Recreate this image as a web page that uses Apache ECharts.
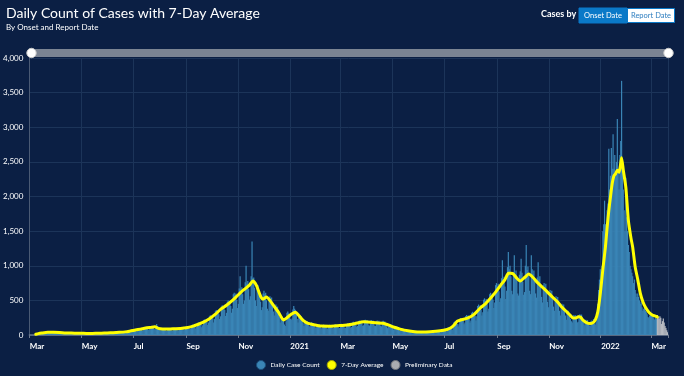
<!DOCTYPE html>
<html lang="en">
<head>
    <meta charset="UTF-8">
    <title>Daily Count of Cases with 7-Day Average</title>
    <script src="https://cdn.jsdelivr.net/npm/echarts@6/dist/echarts.min.js"></script>
</head>
<body style="margin:0;background:#0b1f44">
<div id="main" style="width:684px;height:376px"></div>
<script>
    // one entry per day, starting 2020-03-01 (a Sunday), one week per row
    const dailyCases = [
        0,0,0,0,0,1,2,
        5,12,18,22,25,20,15,
        22,35,40,42,38,30,25,
        30,45,48,44,42,35,28,
        30,42,45,40,38,32,26,
        28,40,38,36,34,30,24,
        24,34,32,33,30,26,20,
        22,30,32,30,29,25,20,
        20,28,27,28,26,22,18,
        19,27,28,26,27,23,18,
        18,26,27,25,26,22,17,
        19,28,27,28,26,23,18,
        20,30,32,31,30,26,21,
        22,33,34,32,33,28,22,
        26,38,39,37,38,32,25,
        30,44,45,42,43,36,28,
        36,55,58,54,56,46,35,
        50,75,80,78,76,65,50,
        62,92,95,90,94,80,60,
        70,100,108,104,105,90,72,
        80,120,125,118,122,105,85,
        78,125,160,130,118,100,80,
        62,92,95,90,94,80,62,
        62,90,96,92,95,82,60,
        65,98,102,96,100,85,65,
        68,102,108,104,105,92,70,
        80,118,125,120,122,105,82,
        95,140,150,135,145,125,95,
        115,175,180,170,178,150,112,
        140,215,225,210,220,190,145,
        180,270,285,265,275,240,180,
        230,345,360,340,350,300,230,
        270,410,430,400,420,360,275,
        320,480,500,470,490,420,320,
        380,590,610,570,600,510,390,
        450,670,850,660,690,590,450,
        500,760,1000,740,780,660,510,
        560,850,1350,820,830,680,500,
        420,680,720,640,560,480,360,
        400,600,640,590,610,500,380,
        350,520,560,510,540,460,340,
        280,420,440,400,410,350,260,
        180,260,270,250,220,150,130,
        200,320,340,310,300,230,220,
        240,370,420,380,360,300,230,
        180,260,280,260,270,220,170,
        130,200,210,195,200,170,130,
        115,175,185,170,175,150,115,
        100,155,160,150,155,130,100,
        95,145,150,140,145,125,95,
        95,145,148,140,146,124,94,
        100,150,155,145,150,128,98,
        100,155,162,152,158,135,102,
        105,160,170,158,165,140,105,
        115,180,190,175,182,155,118,
        130,200,210,195,205,175,132,
        140,210,220,205,215,185,140,
        135,205,215,200,210,180,135,
        130,200,210,195,205,175,132,
        125,195,205,190,195,170,125,
        100,155,160,150,155,130,100,
        80,120,125,118,122,105,80,
        62,95,98,92,95,80,62,
        48,72,75,70,72,62,48,
        40,60,63,58,60,52,40,
        33,50,52,48,50,43,33,
        30,46,48,45,47,40,30,
        30,46,48,45,47,40,31,
        36,55,58,54,56,48,37,
        46,72,76,70,74,62,48,
        70,110,115,108,112,95,72,
        120,185,195,180,190,160,122,
        155,235,245,230,240,205,155,
        180,275,290,270,280,240,180,
        210,320,335,310,325,280,210,
        270,420,440,410,430,370,280,
        330,510,530,490,520,450,340,
        380,590,610,570,600,510,390,
        470,720,750,700,740,630,480,
        530,820,1080,780,840,700,520,
        640,980,1200,950,1000,850,640,
        590,910,1150,880,930,800,600,
        570,870,920,1100,900,770,580,
        620,1000,1300,940,990,850,640,
        590,1150,950,880,930,800,600,
        540,830,1050,800,850,730,550,
        470,720,750,700,740,630,480,
        400,620,650,600,640,540,410,
        350,530,560,520,550,460,350,
        280,430,450,420,440,370,280,
        220,340,350,320,300,230,200,
        180,280,290,270,285,240,180,
        190,290,300,280,295,250,190,
        140,210,220,205,215,180,140,
        130,200,210,195,230,170,150,
        180,300,450,650,800,950,800,
        1000,1500,1600,1940,1600,1400,1800,
        1900,2690,2100,2300,2700,2400,2900,
        2400,2600,2300,2500,3120,2400,2100,
        2600,2800,3670,2400,2100,1800,1500,
        2270,1700,1500,1300,1200,1000,950,
        900,850,750,800,650,600,550,
        600,550,500,450,480,400,350,
        380,400,350,330,300,260,250,
        280,300,290,270,260,240,220,
        250,230
    ];
    // last 13 days are preliminary
    const prelimCases = [290,260,230,270,250,160,200,240,180,130,100,70,40];

    // 7-day average: [day index from 2020-03-01, value]
    const avgPoints = [
        [7,10],[10,20],[14,28],[21,38],[28,38],[35,35],[42,30],[49,28],[56,25],[63,24],
        [70,23],[77,24],[84,26],[91,29],[98,33],[105,38],[112,45],[119,60],[124,72],[130,85],
        [136,100],[142,110],[147,118],[151,95],[156,86],[163,85],[170,90],[177,95],[184,105],[191,125],
        [198,155],[204,185],[211,235],[218,300],[224,370],[231,430],[238,500],[244,570],[251,650],[258,720],
        [262,780],[266,720],[271,560],[274,520],[278,550],[282,500],[286,430],[292,330],[298,216],[302,250],
        [307,300],[312,330],[316,280],[321,210],[326,170],[333,150],[342,130],[352,128],[362,135],[373,145],
        [382,165],[392,190],[403,180],[415,170],[421,145],[427,115],[435,85],[444,60],[452,48],[459,45],
        [470,48],[482,60],[490,80],[494,100],[498,140],[502,200],[506,216],[514,245],[521,290],[529,390],
        [535,450],[541,530],[547,620],[553,720],[558,800],[562,890],[565,890],[568,880],[572,820],[576,780],
        [581,830],[586,880],[591,830],[596,760],[602,690],[608,620],[614,545],[620,475],[625,400],[631,330],
        [635,280],[638,245],[641,245],[644,262],[647,255],[650,210],[655,170],[658,165],[661,175],[664,216],
        [667,330],[670,600],[673,950],[676,1270],[678,1550],[680,1800],[682,2000],[684,2190],[686,2300],[688,2330],
        [690,2380],[692,2350],[694,2480],[695,2560],[697,2380],[700,2130],[703,1650],[706,1400],[708,1270],[711,980],
        [714,800],[717,600],[720,480],[723,400],[727,330],[731,290],[734,275],[737,260]
    ];

    const monthNames = ['Jan','Feb','Mar','Apr','May','Jun','Jul','Aug','Sep','Oct','Nov','Dec'];
    const labelMonths = [0, 2, 4, 6, 8, 10];
    const yTicks = [0, 500, 1000, 1500, 2000, 2500, 3000, 3500, 4000];

    // day categories
    const dayCount = dailyCases.length + prelimCases.length;
    const dates = [];
    for (let i = 0; i < dayCount; i++) {
        const d = new Date(Date.UTC(2020, 2, 1 + i));
        dates.push(d.toISOString().slice(0, 10));
    }

    const confirmedData = dates.map((d, i) => i < dailyCases.length ? dailyCases[i] : null);
    const prelimData = dates.map((d, i) => i < dailyCases.length ? null : prelimCases[i - dailyCases.length]);

    function isLabelDay(index, value) {
        const m = parseInt(value.slice(5, 7)) - 1;
        return value.slice(8) === '01' && labelMonths.indexOf(m) >= 0;
    }

    const chart = echarts.init(document.getElementById('main'));
    const font = "'Lato', 'Open Sans', sans-serif";

    const option = {
        backgroundColor: '#0b1f44',
        animation: false,
        textStyle: {fontFamily: font},
        title: {
            text: 'Daily Count of Cases with 7-Day Average',
            subtext: 'By Onset and Report Date',
            left: 1,
            top: 1,
            itemGap: 3,
            textStyle: {color: '#fff', fontSize: 14, fontWeight: 'normal', fontFamily: font},
            subtextStyle: {color: '#fff', fontSize: 8, fontFamily: font}
        },
        graphic: [
            {type: 'text', left: 541, top: 10, style: {text: 'Cases by', fill: '#fff', font: 'bold 9px ' + font}},
            {type: 'rect', shape: {x: 579, y: 8, width: 48, height: 15}, style: {fill: '#0a79c8', stroke: '#0a79c8'}},
            {type: 'text', x: 603, y: 15.5, style: {text: 'Onset Date', fill: '#fff', font: '7.5px ' + font, align: 'center', verticalAlign: 'middle'}},
            {type: 'rect', shape: {x: 627.5, y: 8.5, width: 47, height: 14}, style: {fill: '#fff', stroke: '#0a79c8'}},
            {type: 'text', x: 651, y: 15.5, style: {text: 'Report Date', fill: '#2f7fc0', font: '7.5px ' + font, align: 'center', verticalAlign: 'middle'}}
        ],
        legend: {
            left: 251,
            bottom: 1,
            itemWidth: 9,
            itemHeight: 9,
            itemGap: 7,
            textStyle: {color: '#fff', fontSize: 6.5, fontFamily: font},
            data: [
                {name: 'Daily Case Count', icon: 'circle', itemStyle: {color: '#3a85b6', borderColor: '#1c4e7a', borderWidth: 1}},
                {name: '7-Day Average', icon: 'circle', itemStyle: {color: '#ffff00', borderColor: '#a9a900', borderWidth: 1}},
                {name: 'Preliminary Data', icon: 'circle', itemStyle: {color: '#a9abb0', borderColor: '#6f7278', borderWidth: 1}}
            ]
        },
        grid: {left: 29, right: 16, top: 58, bottom: 41},
        dataZoom: [{
            type: 'slider',
            xAxisIndex: 0,
            start: 0,
            end: 100,
            left: 29,
            right: 16,
            top: 49,
            height: 8,
            showDetail: false,
            showDataShadow: false,
            brushSelect: false,
            moveHandleSize: 0,
            borderColor: 'transparent',
            backgroundColor: '#7b8493',
            fillerColor: '#7b8493',
            handleIcon: 'circle',
            handleSize: '118%',
            handleStyle: {color: '#fff', borderColor: '#c8c8c8', borderWidth: 1}
        }],
        xAxis: {
            type: 'category',
            data: dates,
            axisLine: {lineStyle: {color: '#6f7b8e', width: 1.5}},
            axisTick: {show: true, length: 3, interval: isLabelDay, lineStyle: {color: '#6f7b8e'}},
            splitLine: {show: true, interval: isLabelDay, lineStyle: {color: '#1c3459'}},
            axisLabel: {
                interval: isLabelDay,
                align: 'left',
                margin: 7,
                color: '#fff',
                fontSize: 8,
                fontWeight: 'bold',
                formatter: function (value) {
                    const m = parseInt(value.slice(5, 7)) - 1;
                    return m === 0 ? value.slice(0, 4) : monthNames[m];
                }
            }
        },
        yAxis: {
            type: 'value',
            min: 0,
            max: 4000,
            interval: 500,
            axisLine: {show: true, lineStyle: {color: '#4a5a74'}},
            splitLine: {lineStyle: {color: '#1c3459'}},
            axisLabel: {
                color: '#fff',
                fontSize: 8,
                margin: 6,
                formatter: function (v) {
                    return yTicks.indexOf(v) >= 0 ? v.toLocaleString('en-US') : '';
                }
            }
        },
        series: [
            {
                name: 'Daily Case Count',
                type: 'bar',
                data: confirmedData,
                barWidth: 1.2,
                barGap: '-100%',
                itemStyle: {color: '#3a85b6'}
            },
            {
                name: 'Preliminary Data',
                type: 'bar',
                data: prelimData,
                barWidth: 1.2,
                barGap: '-100%',
                itemStyle: {color: '#b9bcc2'}
            },
            {
                name: '7-Day Average',
                type: 'line',
                data: avgPoints,
                showSymbol: false,
                smooth: 0.2,
                z: 5,
                itemStyle: {color: '#ffff00'},
                lineStyle: {color: '#ffff00', width: 3, cap: 'round', join: 'round'}
            }
        ]
    };

    chart.setOption(option);
</script>
</body>
</html>
